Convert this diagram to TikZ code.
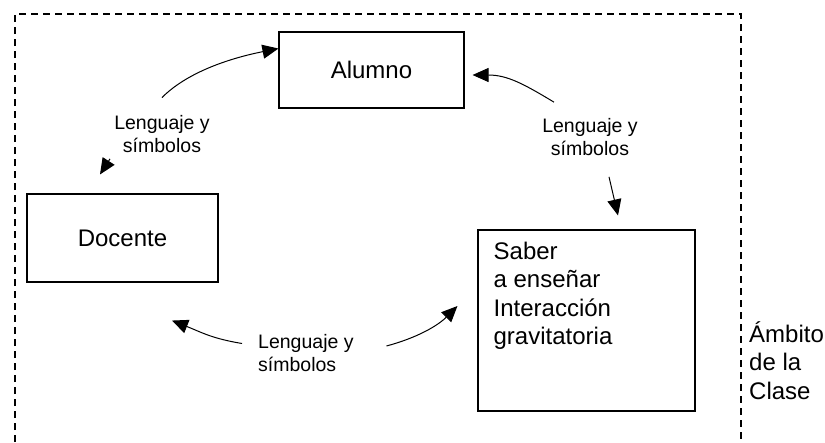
\documentclass[tikz,border=0pt]{standalone}
\usepackage{fontspec}
\setmainfont{Liberation Sans}
\usetikzlibrary{positioning,arrows.meta}

\begin{document}
\begin{tikzpicture}[x=1pt,y=-1pt,
    box/.style={draw,line width=1.1pt,inner sep=0pt},
    boxtext/.style={font=\fontsize{24}{28.5}\selectfont},
    lbl/.style={font=\fontsize{19.5}{23}\selectfont,inner sep=0pt},
    link/.style={line width=1pt,-{Triangle[length=16pt,width=14pt]}}]
    \useasboundingbox (0,0) rectangle (825,442);

    % Draw class border (open at the bottom)
    \draw[line width=1.1pt,dash pattern=on 7pt off 5pt] (15,442) -- (15,14) -- (741,14) -- (741,442);

    % Draw boxes
    \node[box,boxtext,minimum width=185pt,minimum height=76pt] (alumno) at (371.5,70) {Alumno};
    \node[box,boxtext,minimum width=191pt,minimum height=88pt] (docente) at (122.5,238) {Docente};
    \node[box,minimum width=217pt,minimum height=181pt] (saber) at (586.5,320.5) {};
    \node[boxtext,anchor=north west,align=left,inner sep=0pt] (sabertxt) at ([shift={(16,12)}]saber.north west) {Saber\\a enseñar\\Interacción\\gravitatoria};

    % Draw labels
    \node[lbl,align=center] (lblleft) at (162,134) {Lenguaje y\\símbolos};
    \node[lbl,align=center] (lblright) at (590,137) {Lenguaje y\\símbolos};
    \node[lbl,align=left,anchor=west] (lblbottom) at (258,353.5) {Lenguaje y\\símbolos};
    \node[boxtext,anchor=north west,align=left,inner sep=0pt] (ambito) at (749,321) {Ámbito\\de la\\Clase};

    % Draw connectors
    \draw[link] ([shift={(0,-17.6)}]lblleft.north) .. controls +(25,-25) and +(-50,10) .. (alumno.167);
    \draw[link] ([shift={(-52,6)}]lblleft.south) -- ([shift={(-22.5,-19)}]docente.north);
    \draw[link] ([shift={(-36,-16)}]lblright.north) .. controls +(-30,-18) and +(35,0) .. ([shift={(8,5)}]alumno.east);
    \draw[link] ([shift={(19,21)}]lblright.south) -- ([shift={(31.5,-14)}]saber.north);
    \draw[link] ([shift={(-16,-10)}]lblbottom.west) .. controls +(-30,-5) and +(30,12) .. ([shift={(49.5,38)}]docente.south);
    \draw[link] ([shift={(-91,25.5)}]saber.west) .. controls +(30,-8) and +(-20,20) .. ([shift={(-20,-14.5)}]saber.west);
\end{tikzpicture}
\end{document}
